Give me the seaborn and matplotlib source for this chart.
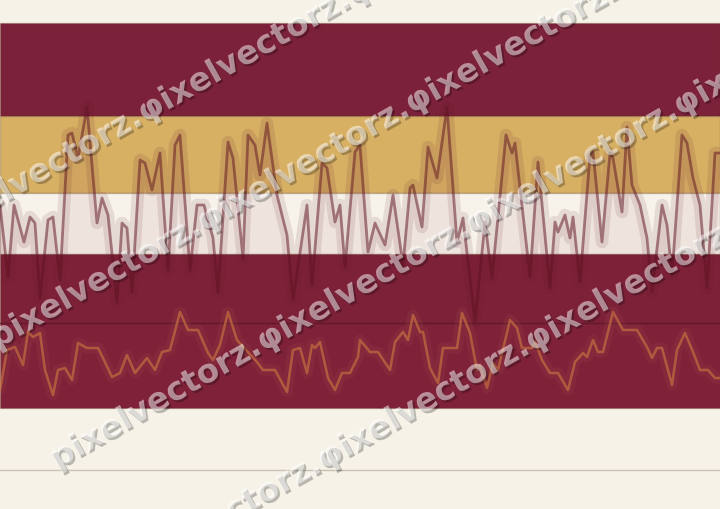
# banded background with two glowing lines and a diagonal watermark

import numpy as np
import pandas as pd
import matplotlib
matplotlib.use('Agg')
import matplotlib.pyplot as plt
import matplotlib.patheffects as pe
import seaborn as sns

# data (x position, value)
upper_x = [0, 8, 14, 24, 30, 35, 40, 48, 53, 60, 68, 72, 78, 87, 97, 102, 108, 117, 122, 127,
           132, 140, 145, 152, 160, 168, 175, 180, 190, 197, 204, 213, 218, 228, 233, 243, 248,
           255, 260, 267, 277, 287, 293, 307, 312, 322, 327, 335, 340, 345, 355, 360, 368, 375,
           385, 393, 403, 410, 413, 422, 428, 437, 447, 457, 463, 475, 485, 492, 506, 512, 515,
           530, 538, 550, 555, 558, 565, 570, 573, 580, 590, 593, 602, 610, 613, 622, 627, 632,
           640, 647, 652, 662, 667, 672, 682, 687, 693, 700, 707, 715, 720]
upper_y = [265, 193, 265, 228, 253, 247, 172, 250, 253, 190, 335, 337, 312, 363, 247, 272, 255,
           168, 247, 242, 178, 310, 307, 280, 317, 200, 325, 335, 200, 265, 265, 232, 178, 328,
           312, 212, 335, 325, 295, 347, 275, 235, 170, 265, 185, 307, 302, 248, 265, 203, 318,
           325, 218, 247, 225, 275, 205, 282, 285, 243, 323, 292, 363, 228, 252, 148, 248, 192,
           335, 317, 327, 193, 308, 182, 248, 238, 255, 232, 253, 188, 315, 318, 228, 317, 312,
           258, 343, 285, 265, 232, 178, 265, 245, 195, 335, 327, 292, 265, 182, 317, 317]

lower_x = [0, 7, 15, 23, 28, 33, 40, 45, 53, 58, 65, 72, 78, 87, 98, 103, 112, 120, 127, 135,
           147, 155, 162, 170, 180, 188, 198, 208, 213, 220, 228, 237, 257, 263, 275, 287, 293,
           300, 307, 312, 315, 320, 328, 335, 342, 350, 358, 360, 370, 378, 390, 395, 403, 408,
           413, 420, 423, 430, 438, 443, 457, 462, 470, 477, 480, 487, 493, 498, 510, 517, 522,
           532, 535, 542, 550, 558, 568, 575, 583, 587, 593, 598, 603, 613, 623, 637, 647, 652,
           657, 662, 672, 677, 685, 693, 700, 708, 715, 720]
lower_y = [80, 120, 123, 105, 138, 133, 137, 100, 75, 100, 102, 90, 127, 122, 122, 112, 93, 97,
           115, 97, 112, 100, 118, 120, 158, 140, 140, 117, 110, 125, 158, 130, 108, 100, 100, 78,
           120, 122, 97, 125, 122, 128, 92, 80, 97, 97, 113, 130, 118, 118, 100, 128, 138, 130,
           155, 138, 138, 102, 87, 122, 122, 157, 137, 100, 105, 82, 107, 100, 150, 142, 122, 122,
           128, 110, 97, 97, 80, 108, 117, 113, 130, 118, 118, 158, 140, 140, 123, 112, 122, 122,
           85, 120, 137, 118, 100, 100, 92, 92]

# horizontal bands (bottom, top, colour) and reference lines
band_bottom = [354, 277, 216, 62]
band_top = [447, 354, 277, 216]
band_colors = ['#7b2139', '#d7b064', '#f7f3ea', '#7e2139']
ref_dark = 147
ref_grey = 0

watermark = 'pixelvectorz.' + 'φixelvectorz.' * 5
wm_x = [-62, -3, 57, 117]
wm_y = [230, 121, 1, -117]

df_up = pd.DataFrame({'x': upper_x, 'y': upper_y})
df_lo = pd.DataFrame({'x': lower_x, 'y': lower_y})

sns.set_theme(style='white')
plt.rcParams['font.family'] = ['DejaVu Sans']

fig = plt.figure(figsize=(7.2, 5.09), dpi=100)
fig.patch.set_facecolor('#f6f2e7')
ax = fig.add_axes([0, 0, 1, 1])
ax.set_facecolor('#f6f2e7')

for b, t, c in zip(band_bottom, band_top, band_colors):
    ax.axhspan(b, t, facecolor=c, edgecolor=(0.35, 0.2, 0.1, 0.25), linewidth=1, zorder=0)

ax.axhline(ref_grey, color='#c9c1b3', lw=1, zorder=1)

# soft fill under the upper line
ax.fill_between(df_up.x, df_up.y, ref_dark, color='#7b2139', alpha=0.07, lw=0, zorder=1)

# glow + line
sns.lineplot(data=df_up, x='x', y='y', ax=ax, color='#5e1222', lw=9, alpha=0.11,
             estimator=None, zorder=2)
sns.lineplot(data=df_up, x='x', y='y', ax=ax, color='#5e1222', lw=2, alpha=0.5,
             estimator=None, zorder=3)

ax.axhline(ref_dark, color='#5c1628', lw=1, alpha=0.8, zorder=3)

sns.lineplot(data=df_lo, x='x', y='y', ax=ax, color='#e0a070', lw=8, alpha=0.07,
             estimator=None, zorder=4)
sns.lineplot(data=df_lo, x='x', y='y', ax=ax, color='#d07a40', lw=1.8, alpha=0.6,
             estimator=None, zorder=5)

# watermark rows
for x0, y0 in zip(wm_x, wm_y):
    ax.text(x0, y0, watermark, rotation=29.5, rotation_mode='anchor', ha='left', va='baseline',
            fontsize=23.5, fontweight='bold', color='white', alpha=0.5, zorder=10,
            path_effects=[pe.SimplePatchShadow(offset=(1.5, -1.5), shadow_rgbFace='black', alpha=0.25),
                          pe.Normal()])

ax.set_xlim(0, 720)
ax.set_ylim(-39, 470)
ax.set_axis_off()

fig.savefig('out.png', dpi=100, facecolor=fig.get_facecolor())
